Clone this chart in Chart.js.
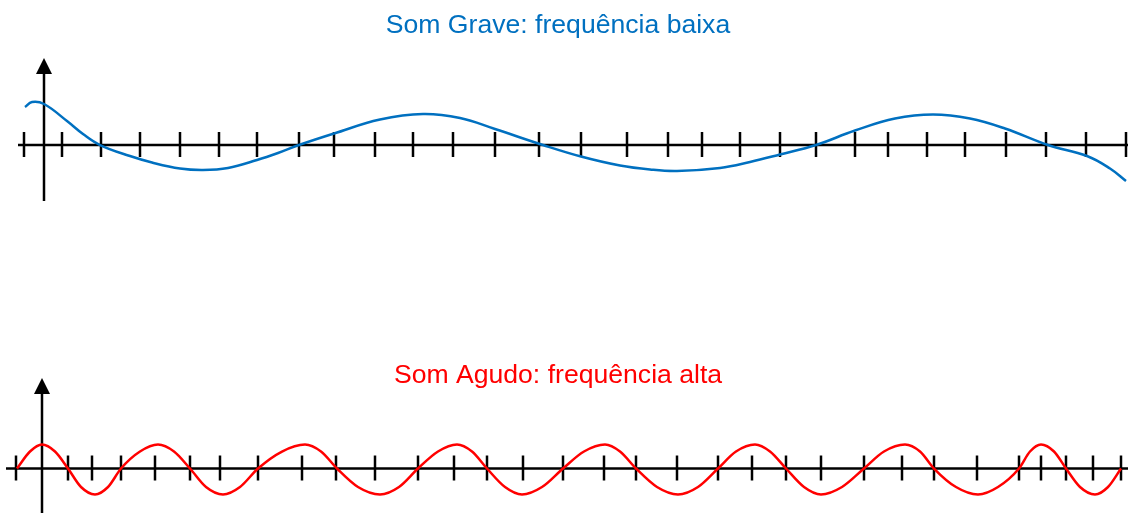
<!DOCTYPE html>
<html lang="pt">
<head>
<meta charset="UTF-8">
<title>Som grave e som agudo</title>
<script src="https://cdn.jsdelivr.net/npm/chart.js"></script>
<style>
  html, body { margin: 0; padding: 0; background: #fff; }
  body { width: 1128px; height: 513px; position: relative; overflow: hidden; }
  .chart-box { position: absolute; left: 0; width: 1128px; }
  #boxGrave { top: 0; height: 250px; }
  #boxAgudo { top: 300px; height: 213px; }
</style>
</head>
<body>
<div class="chart-box" id="boxGrave"><canvas id="graveChart"></canvas></div>
<div class="chart-box" id="boxAgudo"><canvas id="agudoChart"></canvas></div>
<script>
// som grave (onda azul) - x em px da figura, y = deslocamento acima do eixo
const graveX = [25, 32, 44, 67, 83, 100, 130, 152, 180, 203, 228, 257, 278, 299, 334, 380, 423, 460, 495, 543, 581, 620, 650, 677,
    720, 750, 780, 816, 855, 895, 933, 970, 1005, 1048, 1087, 1110, 1126];
const graveY = [38, 43, 41, 24, 11, 0, -11, -17.5, -23.5, -25, -23, -15, -8, 0, 11.5, 25.5, 31, 27, 16, 0, -11.5, -20.5, -24.5, -26,
    -23, -17, -9.5, 0, 14.5, 26.5, 30.5, 26.5, 16.5, 0, -11, -23.5, -36];
const graveMarcas = [24, 62, 101, 140, 180, 219, 257, 299, 334, 375, 413, 453, 495, 539, 581, 627, 668, 702, 740, 780, 816, 855, 888, 927, 965, 1006, 1046, 1086, 1126];

// som agudo (onda vermelha)
const agudoX = [17, 30, 42, 55, 68, 81, 95, 108, 121, 140, 158, 174, 190, 206, 223, 240, 258, 282, 305, 321, 337, 358, 380, 399,
    418, 438, 457, 472, 487, 505, 522, 542, 563, 584, 605, 620, 636, 657, 678, 698, 718, 736, 755, 770, 786, 804, 821, 842,
    864, 884, 905, 920, 934, 956, 978, 998, 1019, 1030, 1041, 1054, 1066, 1080, 1095, 1108, 1121];
const agudoY = [0, 17, 24, 17, 0, -18.5, -26, -18.5, 0, 17, 24, 17, 0, -18.5, -26, -18.5, 0, 17, 24, 17, 0, -18.5, -26, -18.5,
    0, 17, 24, 17, 0, -18.5, -26, -18.5, 0, 17, 24, 17, 0, -18.5, -26, -18.5, 0, 17, 24, 17, 0, -18.5, -26, -18.5,
    0, 17, 24, 17, 0, -18.5, -26, -18.5, 0, 17, 24, 17, 0, -18.5, -26, -18.5, 0];
const agudoMarcas = [16, 68, 92, 121, 155, 190, 220, 258, 302, 336, 375, 418, 454, 487, 523, 563, 604, 636, 677, 718, 752, 786, 821, 864, 902, 934, 977, 1019, 1041, 1066, 1093, 1121];

const fonte = "'Liberation Sans', Arial, sans-serif";

// desenha eixos, seta e tracinhos usando as escalas do grafico
const eixosPlugin = {
    id: 'eixos',
    beforeDatasetsDraw(chart, args, opts) {
        const ctx = chart.ctx;
        const xs = chart.scales.x, ys = chart.scales.y;
        const y0 = ys.getPixelForValue(0);
        const xv = xs.getPixelForValue(opts.eixoX);
        const yTopo = ys.getPixelForValue(opts.topoY);
        ctx.save();
        ctx.strokeStyle = '#000';
        ctx.fillStyle = '#000';
        ctx.lineWidth = 2.5;
        ctx.beginPath();
        ctx.moveTo(xs.getPixelForValue(opts.inicioX), y0);
        ctx.lineTo(chart.width, y0);
        ctx.stroke();
        ctx.beginPath();
        ctx.moveTo(xv, ys.getPixelForValue(opts.baseY));
        ctx.lineTo(xv, yTopo + 14);
        ctx.stroke();
        ctx.beginPath();
        ctx.moveTo(xv, yTopo);
        ctx.lineTo(xv - 8, yTopo + 16);
        ctx.lineTo(xv + 8, yTopo + 16);
        ctx.closePath();
        ctx.fill();
        opts.marcas.forEach(m => {
            const px = xs.getPixelForValue(m);
            ctx.beginPath();
            ctx.moveTo(px, y0 - 13);
            ctx.lineTo(px, y0 + 12);
            ctx.stroke();
        });
        ctx.restore();
    }
};

function fazGrafico(id, xs, ys, cor, titulo, padTitulo, yMin, yMax, eixos, curva) {
    return new Chart(document.getElementById(id), {
        type: 'line',
        data: {
            datasets: [{
                data: xs.map((x, i) => ({x: x, y: ys[i]})),
                borderColor: cor,
                borderWidth: 2.5,
                pointRadius: 0,
                cubicInterpolationMode: curva,
                tension: 0.4,
                clip: false,
                fill: false
            }]
        },
        options: {
            responsive: true,
            maintainAspectRatio: false,
            animation: false,
            layout: { padding: { left: 0, right: 12, top: 0, bottom: 0 } },
            scales: {
                x: { type: 'linear', min: 0, max: 1116, display: false },
                y: { min: yMin, max: yMax, display: false }
            },
            plugins: {
                legend: { display: false },
                tooltip: { enabled: false },
                title: {
                    display: true,
                    text: titulo,
                    color: cor,
                    font: { family: fonte, size: 26.6, weight: 'normal', lineHeight: 1.2 },
                    padding: padTitulo
                },
                eixos: eixos
            }
        },
        plugins: [eixosPlugin]
    });
}

fazGrafico('graveChart', graveX, graveY, '#0070C0', 'Som Grave: frequência baixa',
    { top: 9.5, bottom: 8.6 }, -105, 95,
    { inicioX: 18, eixoX: 44, baseY: -56, topoY: 87, marcas: graveMarcas }, 'default');

fazGrafico('agudoChart', agudoX, agudoY, '#FF0000', 'Som Agudo: frequência alta',
    { top: 59.5, bottom: 8.6 }, -44.5, 68.5,
    { inicioX: 6, eixoX: 42, baseY: -45, topoY: 90.5, marcas: agudoMarcas }, 'monotone');
</script>
</body>
</html>
